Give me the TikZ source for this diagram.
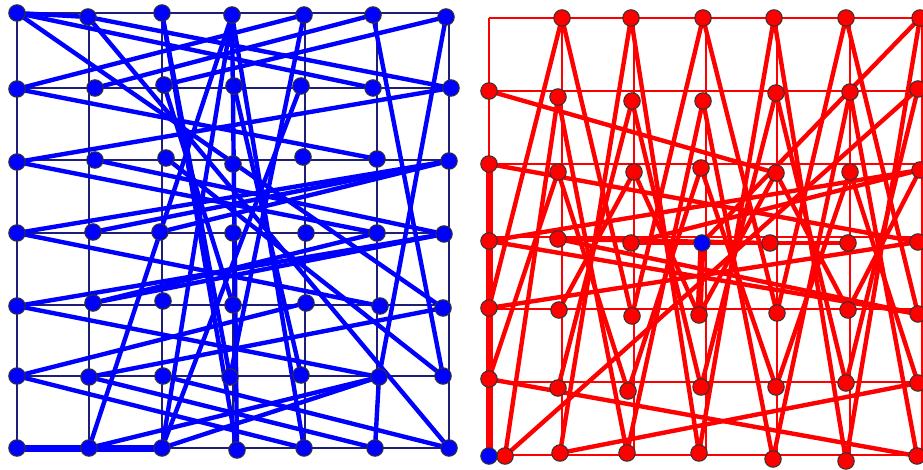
\documentclass[tikz,border=0pt]{standalone}
\usepackage{tikz}
\definecolor{navy}{RGB}{30,30,120}
\definecolor{pblue}{RGB}{0,0,255}
\definecolor{pred}{RGB}{255,0,0}
\tikzset{
  bn/.style={circle,draw=black!80,line width=1pt,fill=pblue,inner sep=0pt,minimum size=16.5pt},
  rn/.style={circle,draw=black!80,line width=1pt,fill=pred,inner sep=0pt,minimum size=16.5pt},
  lgrid/.style={navy,line width=1.1pt},
  rgrid/.style={pred,line width=1.1pt},
  bl/.style={pblue,line width=4.4pt},
  rl/.style={pred,line width=4.4pt},
  blthick/.style={pblue,line width=7pt},
  rlthick/.style={pred,line width=7pt}
}
\begin{document}
\begin{tikzpicture}[x=1pt,y=-1pt]
\useasboundingbox (0,0) rectangle (923,470);
% ---------- left grid
\foreach \x in {17,89,162,233,305,377,449} \draw[lgrid] (\x,13) -- (\x,448);
\foreach \y in {13,88,160,233,305,376,448} \draw[lgrid] (17,\y) -- (449,\y);
% ---------- right grid
\foreach \x in {489,562,634,706,777,850,922} \draw[rgrid] (\x,18) -- (\x,455);
\foreach \y in {18,91,164,237,309,382,455} \draw[rgrid] (489,\y) -- (922,\y);
% ---------- left coordinates
\coordinate (L00) at (17,13); \coordinate (L10) at (88,17); \coordinate (L20) at (162,13); \coordinate (L30) at (232,15); \coordinate (L40) at (304,15); \coordinate (L50) at (373,15); \coordinate (L60) at (446,17);
\coordinate (L01) at (17,89); \coordinate (L11) at (95,88); \coordinate (L21) at (164,85); \coordinate (L31) at (234,86); \coordinate (L41) at (301,86); \coordinate (L51) at (373,88); \coordinate (L61) at (451,88);
\coordinate (L02) at (17,162); \coordinate (L12) at (95,160); \coordinate (L22) at (166,158); \coordinate (L32) at (233,164); \coordinate (L42) at (303,157); \coordinate (L52) at (377,159); \coordinate (L62) at (449,161);
\coordinate (L03) at (17,233); \coordinate (L13) at (93,232); \coordinate (L23) at (160,232); \coordinate (L33) at (233,233); \coordinate (L43) at (306,233); \coordinate (L53) at (377,233); \coordinate (L63) at (444,234);
\coordinate (L04) at (17,306); \coordinate (L14) at (93,303); \coordinate (L24) at (163,301); \coordinate (L34) at (233,305); \coordinate (L44) at (306,303); \coordinate (L54) at (380,306); \coordinate (L64) at (443,308);
\coordinate (L05) at (17,376); \coordinate (L15) at (89,377); \coordinate (L25) at (163,376); \coordinate (L35) at (230,377); \coordinate (L45) at (301,375); \coordinate (L55) at (379,377); \coordinate (L65) at (443,376);
\coordinate (L06) at (17,448); \coordinate (L16) at (89,448); \coordinate (L26) at (162,448); \coordinate (L36) at (237,450); \coordinate (L46) at (304,448); \coordinate (L56) at (375,448); \coordinate (L66) at (449,448);
% ---------- right coordinates
\coordinate (R10) at (562,18); \coordinate (R20) at (631,18); \coordinate (R30) at (703,18); \coordinate (R40) at (774,18); \coordinate (R50) at (846,18); \coordinate (R60) at (920,18);
\coordinate (R01) at (489,91); \coordinate (R11) at (558,97); \coordinate (R21) at (632,101); \coordinate (R31) at (703,101); \coordinate (R41) at (776,93); \coordinate (R51) at (850,92); \coordinate (R61) at (918,89);
\coordinate (R02) at (489,164); \coordinate (R12) at (558,172); \coordinate (R22) at (634,172); \coordinate (R32) at (701,168); \coordinate (R42) at (776,173); \coordinate (R52) at (850,172); \coordinate (R62) at (920,170);
\coordinate (R03) at (489,241); \coordinate (R13) at (558,239); \coordinate (R23) at (631,243); \coordinate (RB33) at (702,243); \coordinate (R43) at (770,243); \coordinate (R53) at (848,243); \coordinate (R63) at (918,242);
\coordinate (R04) at (489,308); \coordinate (R14) at (559,310); \coordinate (R24) at (632,316); \coordinate (R34) at (699,315); \coordinate (R44) at (777,313); \coordinate (R54) at (848,310); \coordinate (R64) at (918,314);
\coordinate (R05) at (489,379); \coordinate (R15) at (558,388); \coordinate (R25) at (628,391); \coordinate (R35) at (701,387); \coordinate (R45) at (776,387); \coordinate (R55) at (846,383); \coordinate (R65) at (918,383);
\coordinate (RB06) at (489,456); \coordinate (R06) at (505,456); \coordinate (R16) at (560,453); \coordinate (R26) at (627,453); \coordinate (R36) at (699,453); \coordinate (R46) at (773,459); \coordinate (R56) at (846,461); \coordinate (R66) at (917,456);
% ---------- left connectors
\draw[blthick] (L06) -- (L26);
\foreach \a/\b in {L00/L10, L00/L64, L10/L61, L10/L66, L00/L51, L20/L36, L20/L35, L30/L16, L30/L46, L30/L26,
  L40/L35, L40/L01, L50/L65, L50/L11, L60/L55, L60/L21, L01/L52, L02/L61, L02/L53, L03/L62, L03/L54,
  L04/L63, L04/L55, L05/L44, L05/L46, L16/L55, L26/L55, L15/L56, L25/L66, L55/L56, L30/L36,
  L62/L23, L63/L14, L65/L22, L64/L15, L41/L26, L12/L63, L13/L62, L14/L53, L31/L45, L21/L34}
  \draw[bl] (\a) -- (\b);
% ---------- right connectors
\draw[rlthick] (RB06) -- (R02);
\draw[rlthick] (RB33) -- (R34);
\foreach \a/\b in {R04/R10, R10/R24, R24/R30, R30/R44, R44/R50, R50/R64,
  R16/R20, R20/R36, R36/R40, R40/R56, R56/R60, R60/RB33,
  R06/R11, R11/R26, R26/R31, R31/R46, R46/R51, R51/R66,
  R05/R12, R12/R25, R25/R32, R32/R45, R45/R52, R52/R65,
  R15/R21, R21/R35, R35/R41, R41/R55, R55/R61,
  R14/R22, R22/R34, R34/R42, R42/R54, R54/R62,
  R06/R61, R01/R42, R02/R63, R04/R63, R03/R62, R03/R64, R05/R66, R16/R65,
  R13/R64, R23/R62, R43/R13, R53/R23}
  \draw[rl] (\a) -- (\b);
% ---------- left nodes
\foreach \n in {L00,L10,L20,L30,L40,L50,L60,L01,L11,L21,L31,L41,L51,L61,L02,L12,L22,L32,L42,L52,L62,
  L03,L13,L23,L33,L43,L53,L63,L04,L14,L24,L34,L44,L54,L64,L05,L15,L25,L35,L45,L55,L65,L06,L16,L26,L36,L46,L56,L66}
  \node[bn] (n\n) at (\n) {};
% ---------- right nodes
\foreach \n in {R10,R20,R30,R40,R50,R60,R01,R11,R21,R31,R41,R51,R61,R02,R12,R22,R32,R42,R52,R62,
  R03,R13,R23,R43,R53,R63,R04,R14,R24,R34,R44,R54,R64,R05,R15,R25,R35,R45,R55,R65,R06,R16,R26,R36,R46,R56,R66}
  \node[rn] (n\n) at (\n) {};
\node[bn] (nRB33) at (RB33) {};
\node[bn] (nRB06) at (RB06) {};
\end{tikzpicture}
\end{document}
